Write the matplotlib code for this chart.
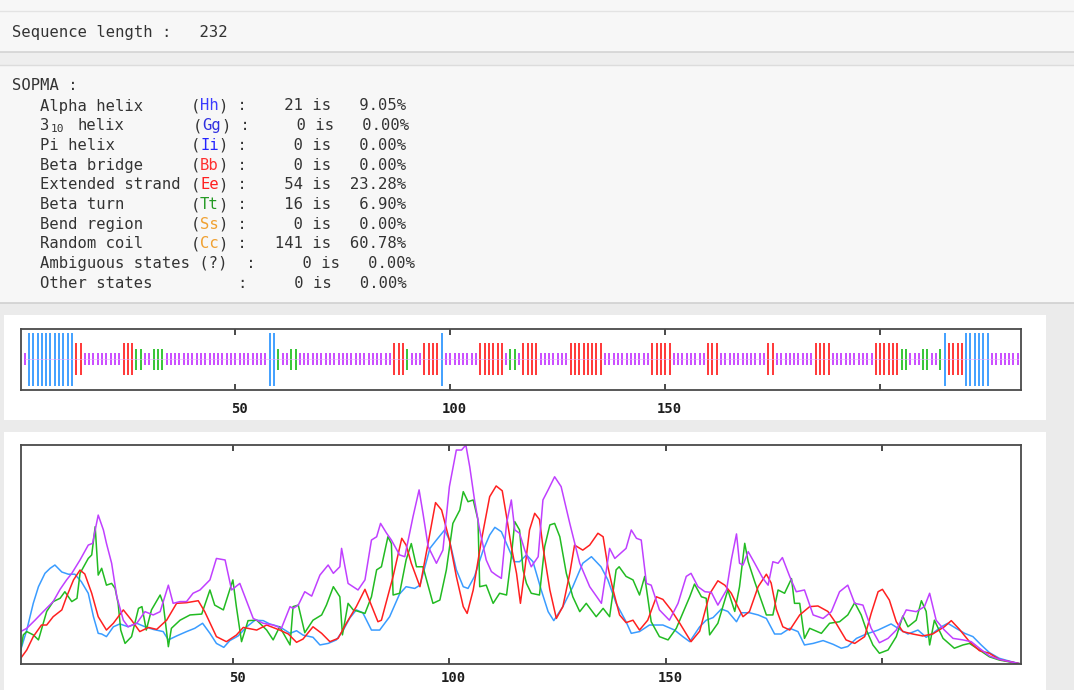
import matplotlib
matplotlib.use("Agg")
import matplotlib.pyplot as plt
from matplotlib.patches import Rectangle
from matplotlib.lines import Line2D

W, H = 1074, 690

# ---- SOPMA summary -------------------------------------------------------
seq_length = 232
state_names = ["Alpha helix", "3 10 helix", "Pi helix", "Beta bridge", "Extended strand",
               "Beta turn", "Bend region", "Random coil"]
state_codes = ["Hh", "Gg", "Ii", "Bb", "Ee", "Tt", "Ss", "Cc"]
code_colors = ["#3b3bff", "#3030e0", "#2424ff", "#ff3030", "#ff2020",
               "#249a24", "#f0a030", "#f0a030"]
state_counts = [21, 0, 0, 0, 54, 16, 0, 141]
state_pcts = [9.05, 0.00, 0.00, 0.00, 23.28, 6.90, 0.00, 60.78]
ambiguous = ("Ambiguous states (?)", 0, 0.00)
other = ("Other states", 0, 0.00)

# ---- per-residue assignment (run length: state, length) ------------------
ss_runs = [("C", 1), ("H", 11), ("E", 2), ("C", 9), ("E", 3), ("T", 2), ("C", 2),
           ("T", 3), ("C", 24), ("H", 2), ("T", 1), ("C", 2), ("T", 2), ("C", 22),
           ("E", 3), ("T", 1), ("C", 3), ("E", 4), ("H", 1), ("C", 8), ("E", 6),
           ("C", 1), ("T", 2), ("C", 1), ("E", 4), ("C", 7), ("E", 8), ("C", 11),
           ("E", 5), ("C", 8), ("E", 3), ("C", 11), ("E", 2), ("C", 9), ("E", 4),
           ("C", 10), ("E", 6), ("T", 2), ("C", 3), ("T", 2), ("C", 2), ("T", 1),
           ("H", 1), ("E", 4), ("H", 6), ("C", 7)]

# ---- prediction score profiles -------------------------------------------
helix_x = [1, 2.4, 3.9, 5.1, 6.6, 7.8, 8.9, 10.5, 12, 13.5, 15, 16.6, 17.8, 18.9, 19.7,
           20.8, 22.4, 23.9, 25.8, 27.8, 29.7, 31.6, 33.9, 35.1, 37, 39.3, 41.2, 43,
           44.7, 46.2, 47.9, 49.3, 51.2, 53.2, 55.1, 57, 58.5, 60.8, 63.2, 64.7, 66.2,
           68.5, 70.1, 72, 73.9, 75.5, 77, 78.5, 80, 82, 83.9, 86.2, 88.5, 90, 92, 93.2,
           95.5, 97, 98.9, 100, 101.6, 103.2, 104.3, 105.8, 107.8, 109.3, 110.5, 112,
           113.5, 115, 116.2, 117.8, 119.3, 121.2, 122.8, 124.1, 126.2, 128.5, 130.8,
           132.8, 135, 136.6, 138.5, 140.8, 142, 143.9, 146.2, 149.3, 152, 153.9,
           155.5, 157.8, 159.3, 160.9, 162.8, 164.3, 166.3, 167.4, 169.3, 171.3,
           173.2, 175.1, 176.6, 178.6, 180.5, 182, 184, 186.3, 188.6, 190.5, 192, 194,
           196.3, 199, 202, 204, 205.9, 208.2, 210.1, 211.6, 213.6, 215.1, 217, 219,
           220.9, 222.8, 224.7, 227, 229.7, 232]
helix_y = [.064, .155, .277, .353, .414, .437, .452, .42, .41, .41, .376, .323, .216, .14,
           .137, .125, .17, .183, .17, .186, .17, .158, .148, .11, .128, .148, .163, .186,
           .14, .094, .076, .107, .128, .17, .2, .198, .183, .17, .14, .152, .132, .122,
           .087, .094, .11, .155, .21, .247, .234, .155, .155, .216, .32, .353, .345, .36,
           .528, .566, .612, .566, .43, .353, .345, .4, .52, .589, .624, .604, .536, .467,
           .467, .498, .467, .338, .239, .198, .262, .353, .46, .49, .444, .384, .277,
           .193, .14, .148, .178, .178, .155, .125, .102, .17, .2, .212, .251, .24, .193,
           .234, .234, .224, .208, .137, .137, .163, .148, .087, .094, .107, .09, .072,
           .08, .117, .137, .155, .183, .158, .137, .155, .122, .14, .17, .186, .163, .14,
           .125, .087, .052, .026, .011, .0]

strand_x = [1, 2.4, 3.9, 5.8, 7, 8.5, 10.5, 11.6, 13.2, 14.7, 15.8, 17.4, 18.9, 20.8,
            22.4, 24.7, 26.6, 28.5, 30.5, 32.4, 34.7, 37, 39.3, 42, 43.5, 46.2, 48.5,
            50.8, 52.4, 55.5, 57.8, 60.8, 62.8, 64.7, 66.2, 68.5, 70.5, 72.4, 74.3,
            76.2, 78.5, 80.5, 83.5, 84.3, 87, 89, 90, 91.2, 93.2, 95, 96.8, 98.2, 100,
            101.6, 103.2, 104.1, 105.5, 107.4, 109.3, 110.8, 112.2, 113.2, 114.3, 115.5,
            116.4, 117.4, 118.5, 119.7, 120.8, 121.6, 123.2, 124.7, 126.2, 127.8, 128.9,
            130.8, 132.4, 134.3, 135.5, 136.6, 137.8, 139.3, 140.8, 142.4, 143.9, 145.8,
            147.8, 149.3, 151.2, 153.2, 155.8, 157.8, 160.1, 162, 163.6, 165.1, 166.6,
            167.8, 169.3, 171.3, 173.2, 174.3, 175.5, 177, 178.6, 180.9, 183.2, 185.1,
            187.4, 189.3, 191.6, 193.6, 195.9, 197.4, 199, 200, 201.6, 203.2, 204.7, 207,
            209.3, 211.6, 214.3, 215.9, 217.8, 220.1, 222.4, 224.7, 227, 232]
strand_y = [.026, .064, .125, .178, .178, .216, .247, .307, .384, .429, .411, .323, .216,
            .155, .186, .247, .2, .148, .167, .158, .2, .277, .28, .289, .239, .125, .102,
            .132, .167, .155, .178, .155, .137, .099, .114, .17, .14, .102, .117, .186,
            .262, .341, .193, .2, .4, .574, .543, .46, .353, .543, .737, .703, .566, .4,
            .262, .231, .338, .566, .764, .813, .791, .673, .536, .414, .277, .43, .612,
            .688, .66, .536, .338, .208, .262, .414, .543, .52, .543, .597, .581, .444,
            .338, .224, .189, .2, .155, .2, .307, .295, .247, .186, .102, .15, .32, .38,
            .36, .323, .262, .216, .24, .353, .41, .37, .25, .17, .155, .224, .262, .265,
            .24, .186, .11, .094, .125, .231, .33, .341, .292, .193, .148, .137, .128,
            .137, .17, .198, .158, .102, .061, .049, .021, .0]

turn_x = [1, 1.6, 2.4, 3.9, 5.1, 7, 8.5, 10.1, 11.2, 12.8, 14, 14.7, 16.6, 17.4, 18.2,
          18.9, 19.7, 20.8, 22, 22.8, 23.5, 24.1, 25.1, 26.6, 28.2, 29, 30, 31.2, 33.2,
          33.9, 35.1, 35.8, 37.8, 40.1, 42.8, 44.7, 45.8, 47.8, 50, 50.8, 52, 53.5, 55.5,
          57.8, 59.3, 60.8, 63.2, 63.9, 65.1, 66.6, 68.5, 70.5, 71.6, 73.2, 74.7, 75.3,
          76.6, 77.8, 80.5, 82, 83.2, 84.3, 85.8, 86.6, 87, 88.5, 90, 91.2, 92.4, 93.9,
          96.2, 97.8, 99.3, 100.8, 102.4, 103.2, 104.3, 105.5, 106.6, 107, 108.5, 110.1,
          111.6, 113.2, 114.3, 115.1, 116.2, 117, 117.8, 118.9, 120.8, 122, 123.2, 124.3,
          125.5, 127, 128.5, 130.1, 131.6, 133.9, 135.5, 137, 138.5, 139.2, 140.8, 142.4,
          143.9, 145.1, 146.6, 148.5, 150.5, 152.4, 155.5, 156.6, 158.2, 159.3, 160.1,
          162, 164.3, 165.9, 167, 168.2, 169, 170.5, 173.2, 174.7, 175.9, 177.4, 179,
          179.7, 180.9, 182, 183.2, 185.9, 187.8, 190.1, 192, 193.6, 195.1, 196.3, 197.8,
          199.3, 201.3, 203.2, 204.7, 205.9, 207.8, 209, 210.1, 210.9, 212, 214, 216.6,
          218.6, 220.1, 222.4, 224.7, 227, 232]
turn_y = [.064, .133, .148, .133, .11, .24, .285, .3, .33, .285, .3, .414, .482, .498, .627,
          .406, .437, .36, .368, .345, .277, .155, .094, .125, .254, .262, .155, .247, .315,
          .277, .079, .163, .2, .224, .228, .338, .269, .247, .384, .262, .102, .198, .2,
          .155, .11, .17, .087, .262, .269, .143, .2, .224, .269, .353, .307, .133, .277,
          .247, .231, .307, .43, .444, .581, .55, .315, .323, .475, .55, .444, .444, .277,
          .292, .43, .642, .703, .787, .741, .749, .658, .353, .36, .277, .323, .315, .49,
          .65, .612, .43, .368, .323, .315, .536, .635, .642, .581, .414, .307, .239, .277,
          .216, .254, .216, .43, .444, .4, .384, .315, .4, .193, .125, .11, .163, .307,
          .365, .307, .3, .133, .186, .338, .24, .353, .551, .467, .376, .224, .224, .338,
          .323, .39, .277, .277, .117, .163, .14, .186, .193, .224, .28, .224, .155, .087,
          .049, .064, .125, .219, .17, .2, .289, .24, .087, .2, .117, .072, .087, .094,
          .064, .033, .018, .0]

coil_x = [1, 2.4, 4.3, 6.2, 8.5, 10.1, 11.6, 12.8, 14.7, 16.6, 17.6, 18.2, 18.9, 20.1,
          20.8, 22, 23.2, 24.7, 25.8, 27.8, 29.7, 31.6, 33.2, 35.1, 36.2, 37.8, 39.3, 40.8,
          42.4, 44.7, 46.2, 48.2, 49.7, 51.6, 53.2, 54.7, 57, 59.3, 61.2, 63.2, 63.9, 65.1,
          66.6, 68.2, 70.1, 72, 73.2, 74.7, 75.1, 76.6, 78.9, 80.5, 82, 83.2, 84.1, 85.5,
          86.6, 88.5, 89.7, 91.6, 93, 93.9, 95.1, 97, 98.5, 100, 101.6, 102.8, 103.8,
          104.7, 105.8, 107, 108.5, 109.7, 110.8, 112, 113.2, 114.3, 115.1, 116.2, 117.4,
          118.9, 120.5, 121.6, 122.8, 124.3, 125.8, 127.8, 130.1, 132.4, 134.3, 135.1, 137,
          138.2, 140.8, 142, 143.2, 144.3, 145.5, 146.6, 148.5, 150.8, 152.8, 154.7, 155.8,
          157.4, 159, 160.5, 162, 164, 165.1, 166.3, 167, 167.8, 169, 170.5, 172.4, 173.6,
          174.7, 175.9, 176.9, 178.6, 180.1, 182, 184, 186.3, 188.2, 190.1, 192, 193.6,
          195.5, 197.4, 199.3, 201.3, 203.2, 205.5, 207.8, 209.7, 210.9, 212.4, 214.3,
          216.3, 218.6, 220.5, 222.4, 224.7, 227, 232]
coil_y = [.148, .163, .2, .239, .285, .341, .384, .414, .475, .543, .551, .612, .68, .612,
          .551, .46, .307, .2, .17, .186, .239, .224, .239, .36, .277, .285, .285, .323,
          .338, .384, .482, .475, .338, .368, .285, .208, .186, .178, .163, .262, .254, .269,
          .33, .31, .406, .452, .414, .444, .528, .368, .338, .384, .566, .581, .642, .597,
          .566, .498, .49, .673, .795, .688, .536, .46, .52, .81, .977, .977, 1.0, .9, .749,
          .612, .475, .422, .406, .391, .642, .749, .612, .597, .52, .444, .49, .749, .795,
          .855, .81, .642, .46, .353, .3, .277, .528, .482, .528, .612, .574, .566, .368,
          .36, .247, .2, .277, .4, .414, .353, .33, .327, .269, .338, .475, .594, .46, .452,
          .513, .46, .391, .36, .467, .46, .486, .399, .33, .338, .224, .208, .239, .33,
          .36, .277, .269, .163, .097, .117, .155, .247, .239, .262, .323, .2, .155, .117,
          .11, .102, .072, .037, .021, .0]

colors = {"H": "#3a9cff", "E": "#ff3030", "T": "#2fc42f", "C": "#c845ff"}
half_height = {"H": 0.87, "E": 0.535, "T": 0.35, "C": 0.2}


def fx(x):
    return x / W


def fy(y):
    return 1 - y / H


fig = plt.figure(figsize=(W / 100, H / 100), dpi=100, facecolor="#ebebeb")


def box(x0, y0, x1, y1, color):
    fig.add_artist(Rectangle((fx(x0), fy(y1)), fx(x1) - fx(x0), fy(y0) - fy(y1),
                             transform=fig.transFigure, facecolor=color,
                             edgecolor="none", zorder=-2))


def hline(y, x0, x1, color, lw=1.0):
    fig.add_artist(Line2D([fx(x0), fx(x1)], [fy(y), fy(y)], transform=fig.transFigure,
                          color=color, lw=lw, zorder=-1))


# page background blocks
box(0, 0, W, 303, "#f7f7f7")
hline(11, 0, W, "#e3e3e3")
box(0, 52, W, 65, "#eeeeee")
hline(52, 0, W, "#d3d3d3", 1.2)
hline(65, 0, W, "#dcdcdc")
hline(303, 0, W, "#d0d0d0", 1.2)
box(4, 315, 1046, 420, "white")
box(4, 432, 1046, 690, "white")

# ---- text block ----------------------------------------------------------
mono = "DejaVu Sans Mono"
fs = 11.2
cw = 9.4
x0 = 12
txt_col = "#333333"


def put(col, y, s, color=txt_col, size=fs, dx=0.0):
    fig.text(fx(x0 + col * cw + dx), fy(y), s, family=mono, fontsize=size,
             color=color, ha="left", va="center")


put(0, 32, f"Sequence length :   {seq_length}")
put(0, 86, "SOPMA :")
row_y0, row_dy = 106, 19.7
for i, (name, code, ccol, n, p) in enumerate(zip(state_names, state_codes, code_colors,
                                                 state_counts, state_pcts)):
    y = row_y0 + i * row_dy
    dx = 0.0
    if code == "Gg":
        # "3" with a "10" subscript, then the word helix
        base, sub, word = name.split()
        dx = 2.5
        put(3, y, base)
        fig.text(fx(x0 + 4.1 * cw), fy(y + 3), sub, family=mono, fontsize=8,
                 color=txt_col, ha="left", va="center")
        put(7, y, word)
    else:
        put(3, y, name)
    put(19, y, "(", dx=dx)
    put(20, y, code, color=ccol, dx=dx)
    put(22, y, ")", dx=dx)
    put(23, y, f" :{n:>6} is {p:>6.2f}%", dx=dx)

y = row_y0 + len(state_names) * row_dy
put(3, y, f"{ambiguous[0]}  :{ambiguous[1]:>6} is {ambiguous[2]:>6.2f}%")
y += row_dy
put(3, y, other[0])
put(24, y, f":{other[1]:>6} is {other[2]:>6.2f}%")

# ---- shared axis styling -------------------------------------------------
ticks = [50, 100, 150, 200]
tick_labels = ["50", "100", "150", ""]


def style(ax, label_drop):
    for sp in ax.spines.values():
        sp.set_color("#4a4a4a")
        sp.set_linewidth(1.3)
    ax.set_yticks([])
    ax.set_xticks(ticks)
    ax.set_xticklabels([])
    ax.tick_params(axis="x", direction="in", top=True, bottom=True, length=4,
                   width=1.3, color="#3a3a3a")
    for t, lab in zip(ticks, tick_labels):
        if lab:
            ax.annotate(lab, xy=(t, 0), xycoords=("data", "axes fraction"),
                        xytext=(3, -label_drop), textcoords="offset points",
                        ha="center", va="center", family=mono, fontweight="bold",
                        fontsize=10, color="#1e1e1e", annotation_clip=False)


# ---- secondary structure track -------------------------------------------
ss = "".join(s * n for s, n in ss_runs)
res = list(range(1, len(ss) + 1))

ax1 = fig.add_axes([fx(20.7), fy(389.5), fx(1020.5) - fx(20.7), (389.5 - 329) / H])
ax1.set_xlim(0.07, 232.65)
ax1.set_ylim(-1, 1)
for state in "CTEH":
    xs = [r for r, s in zip(res, ss) if s == state]
    h = half_height[state]
    ax1.vlines(xs, -h, h, colors=colors[state], lw=1.35)
ax1.plot([1, len(ss)], [0, 0], color="#e9a9ff", lw=0.6, alpha=0.7)
style(ax1, 14)

# ---- score profiles ------------------------------------------------------
ax2 = fig.add_axes([fx(20.7), fy(664), fx(1021) - fx(20.7), (664 - 445) / H])
ax2.set_xlim(1, 232)
ax2.set_ylim(0, 1)
ax2.plot(helix_x, helix_y, color="#3a9cff", lw=1.1)
ax2.plot(turn_x, turn_y, color="#22bb22", lw=1.1)
ax2.plot(strand_x, strand_y, color="#ff2020", lw=1.1)
ax2.plot(coil_x, coil_y, color="#c040ff", lw=1.1)
style(ax2, 10)

fig.savefig("out.png", dpi=100, facecolor=fig.get_facecolor())
